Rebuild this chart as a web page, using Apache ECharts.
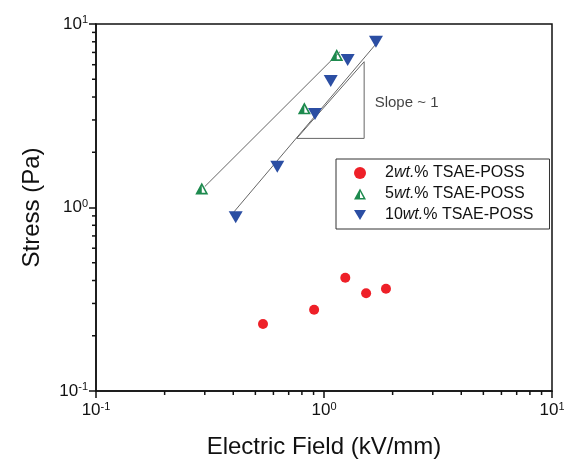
<!DOCTYPE html>
<html><head><meta charset="utf-8">
<script src="https://cdn.jsdelivr.net/npm/echarts@6/dist/echarts.min.js"></script>
<style>html,body{margin:0;padding:0;background:#fff}#c{width:564px;height:467px}</style>
</head><body><div id="c"></div>
<script>
// Data (Electric field kV/mm, Stress Pa)
const s2x = [0.54, 0.905, 1.24, 1.53, 1.87];
const s2y = [0.232, 0.277, 0.414, 0.341, 0.361];
const s5x = [0.291, 0.82, 1.137];
const s5y = [1.27, 3.47, 6.78];
const s10x = [0.41, 0.624, 0.913, 1.07, 1.27, 1.69];
const s10y = [0.884, 1.67, 3.23, 4.89, 6.37, 8.01];
const fit5x = [0.30, 1.175];
const fit5y = [1.30, 7.06];
const fit10x = [0.40, 1.70];
const fit10y = [0.937, 7.85];
const slopeX = [0.759, 1.50, 1.50, 0.759];
const slopeY = [2.38, 6.23, 2.38, 2.38];
const slopeText = 'Slope ~ 1';
const names = ['2wt.% TSAE-POSS', '5wt.% TSAE-POSS', '10wt.% TSAE-POSS'];
const minorMult = [2, 3, 4, 5, 6, 7, 8, 9];

const zip = (a, b) => a.map((v, i) => [v, b[i]]);
const minorVals = [];
[0.1, 1].forEach(d => minorMult.forEach(m => minorVals.push(+(d * m).toPrecision(3))));

const FONT = '"Liberation Sans", Arial, sans-serif';
const supLabel = v => {
  const e = Math.round(Math.log10(v));
  return '{b|10}{s|' + e + '}';
};
const labelRich = {
  b: {fontSize: 17, fontFamily: FONT, color: '#111'},
  s: {fontSize: 11, fontFamily: FONT, color: '#111', padding: [0, 0, 8, 0]}
};

const greenTri = 'path://M10,0 L20,18 L0,18 Z M10,5 L10,15.5 L15.8,15.5 Z';
const blueTri = 'path://M0,0 L20,0 L10,17 Z';

const chart = echarts.init(document.getElementById('c'), null, {renderer: 'canvas'});

function tickSeries(axis) {
  return {
    type: 'custom', silent: true, clip: false, z: 5,
    data: minorVals.map(v => [v]),
    renderItem: (params, api) => {
      const v = api.value(0);
      if (axis === 'x') {
        const p = api.coord([v, 0.1]);
        return {type: 'line', shape: {x1: p[0], y1: p[1], x2: p[0], y2: p[1] + 4}, style: {stroke: '#111', lineWidth: 1.5}};
      } else {
        const p = api.coord([0.1, v]);
        return {type: 'line', shape: {x1: p[0], y1: p[1], x2: p[0] - 4, y2: p[1]}, style: {stroke: '#111', lineWidth: 1.5}};
      }
    },
    encode: axis === 'x' ? {x: 0} : {y: 0}
  };
}

chart.setOption({
  animation: false,
  backgroundColor: '#fff',
  grid: {left: 96, right: 12, top: 24, bottom: 76, show: true, borderColor: '#111', borderWidth: 1.5,
    containLabel: false, outerBoundsMode: 'none'},
  legend: {
    orient: 'vertical', left: 336, top: 159,
    data: names,
    borderColor: '#333', borderWidth: 1, borderRadius: 0,
    padding: [6, 16, 6, 18], itemGap: 5, itemWidth: 12, itemHeight: 12,
    formatter: n => {
      const m = n.match(/^(\d+)(wt\.)(.*)$/);
      return '{g|}{n|' + m[1] + '}{i|' + m[2] + '}{n|' + m[3] + '}';
    },
    textStyle: {
      rich: {
        g: {width: 14},
        n: {fontSize: 16, fontFamily: FONT, color: '#111'},
        i: {fontSize: 16, fontFamily: FONT, fontStyle: 'italic', color: '#111'}
      }
    }
  },
  xAxis: {
    type: 'log', logBase: 10, min: 0.1, max: 10,
    name: 'Electric Field (kV/mm)', nameLocation: 'middle', nameGap: 44,
    nameTextStyle: {fontSize: 24, fontFamily: FONT, color: '#111'},
    axisLine: {lineStyle: {color: '#111', width: 1.5}},
    axisTick: {inside: false, length: 7, lineStyle: {color: '#111', width: 1.5}},
    axisLabel: {margin: 10, formatter: supLabel, rich: labelRich},
    splitLine: {show: false}, minorTick: {show: false}
  },
  yAxis: {
    type: 'log', logBase: 10, min: 0.1, max: 10,
    name: 'Stress (Pa)', nameLocation: 'middle', nameGap: 52,
    nameTextStyle: {fontSize: 24, fontFamily: FONT, color: '#111'},
    axisLine: {lineStyle: {color: '#111', width: 1.5}},
    axisTick: {inside: false, length: 7, lineStyle: {color: '#111', width: 1.5}},
    axisLabel: {margin: 8, formatter: supLabel, rich: labelRich},
    splitLine: {show: false}, minorTick: {show: false}
  },
  series: [
    {type: 'line', data: zip(fit5x, fit5y), showSymbol: false, silent: true, lineStyle: {color: '#666', width: 1}, z: 1},
    {type: 'line', data: zip(fit10x, fit10y), showSymbol: false, silent: true, lineStyle: {color: '#666', width: 1}, z: 1},
    {type: 'line', data: zip(slopeX, slopeY), showSymbol: false, silent: true, lineStyle: {color: '#666', width: 1}, z: 1},
    {type: 'scatter', data: [[1.66, 3.71]], symbol: 'circle', symbolSize: 1, silent: true,
      itemStyle: {color: 'rgba(0,0,0,0)'},
      label: {show: true, formatter: slopeText, position: 'right', distance: 0, fontSize: 15, fontFamily: FONT, color: '#111'}},
    {name: names[0], type: 'scatter', data: zip(s2x, s2y), symbol: 'circle', symbolSize: 10, itemStyle: {color: '#ee2028', opacity: 1}, z: 3},
    {name: names[1], type: 'scatter', data: zip(s5x, s5y), symbol: greenTri, symbolSize: [13, 12], itemStyle: {color: '#1d8a4e', opacity: 1}, z: 3},
    {name: names[2], type: 'scatter', data: zip(s10x, s10y), symbol: blueTri, symbolSize: [14, 12], itemStyle: {color: '#2b4ea3', opacity: 1}, z: 3},
    tickSeries('x'),
    tickSeries('y')
  ]
});
</script></body></html>
